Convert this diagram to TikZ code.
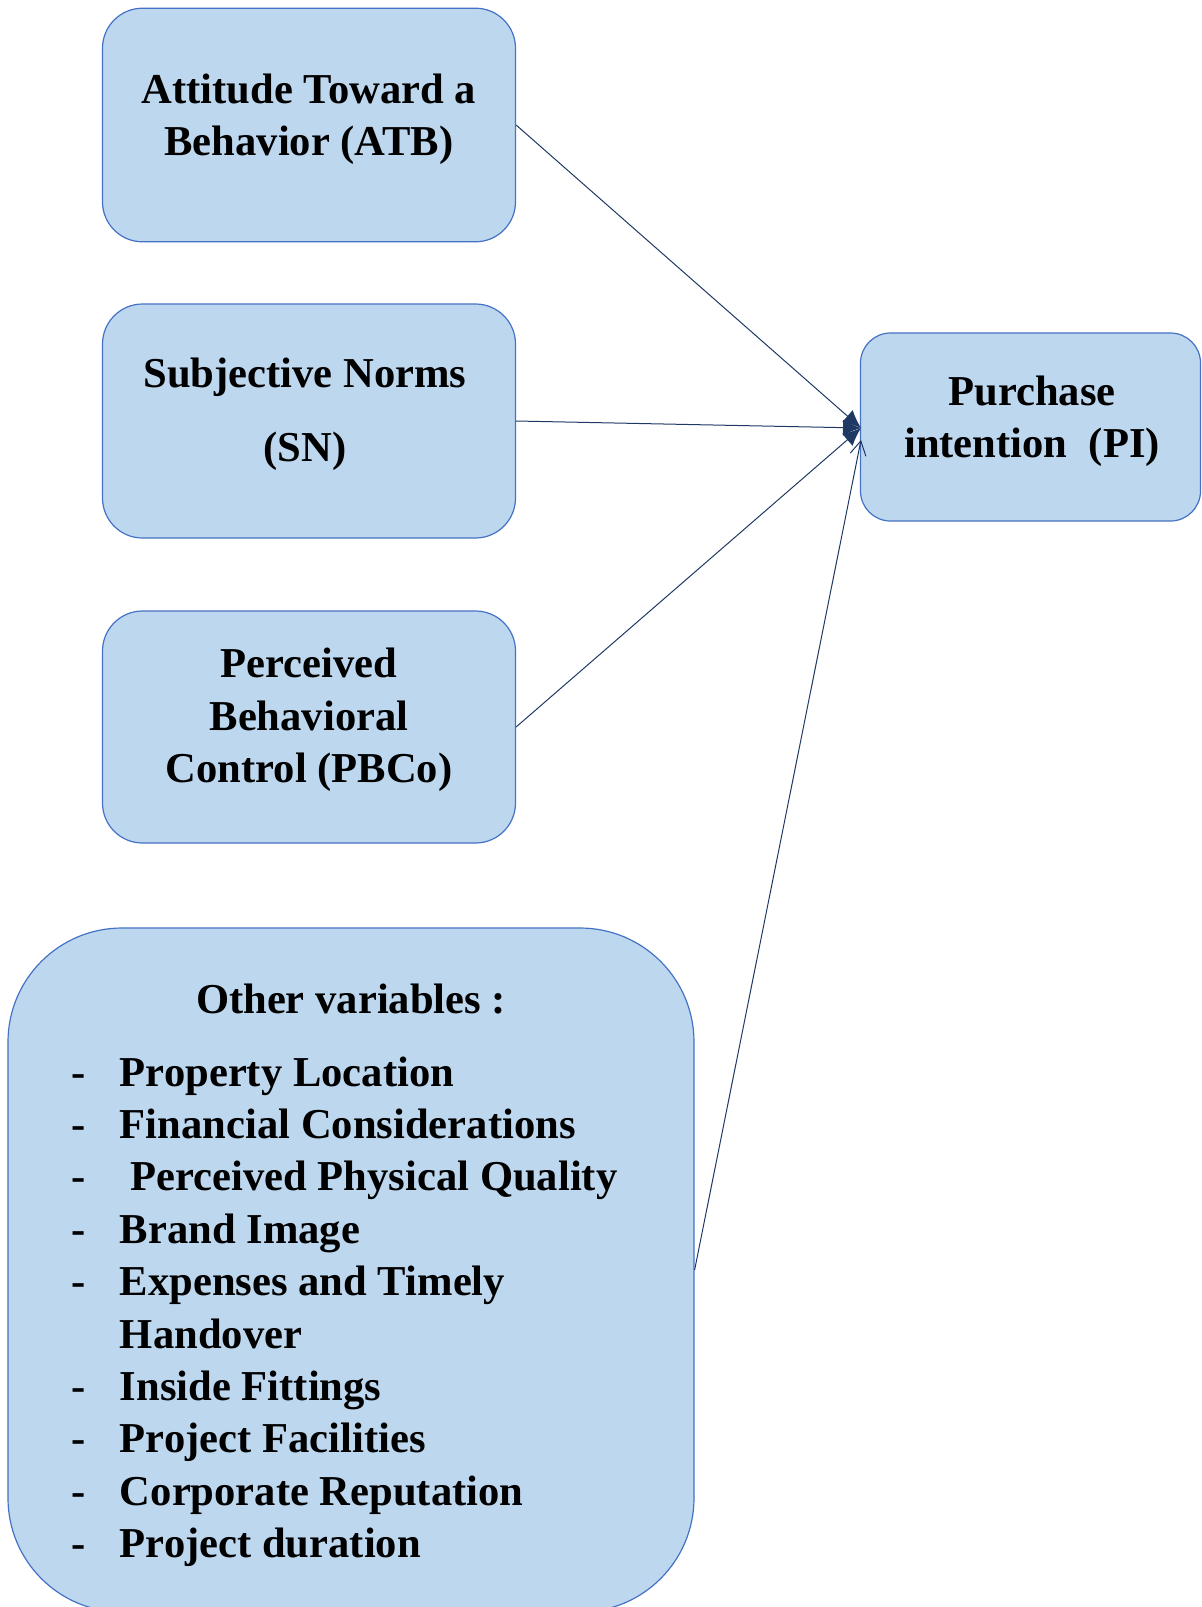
\documentclass[tikz,border=0pt]{standalone}
\usepackage{fontspec}
\setmainfont{Liberation Serif}
\usetikzlibrary{arrows.meta}
\definecolor{boxfill}{HTML}{BDD7EE}
\definecolor{boxline}{HTML}{4472C4}
\definecolor{linkcol}{HTML}{203864}
\tikzset{
  varbox/.style={draw=boxline, fill=boxfill, line width=0.6pt, inner sep=0pt},
  vartext/.style={font=\bfseries\fontsize{21.3}{26.2}\selectfont, align=center, inner sep=0pt},
  link/.style={draw=linkcol, line width=0.5pt},
}

\begin{document}
\begin{tikzpicture}[x=0.5pt,y=-0.5pt]
        \useasboundingbox (0,0) rectangle (1202,1607);
        \node[varbox, rounded corners=20pt, minimum width=206.5pt, minimum height=116.8pt] (atb) at (309,125){};
        \node[varbox, rounded corners=20pt, minimum width=206.5pt, minimum height=117pt] (sn) at (309,421){};
        \node[varbox, rounded corners=20pt, minimum width=206.5pt, minimum height=116pt] (pbc) at (309,727){};
        \node[varbox, rounded corners=15pt, minimum width=170pt, minimum height=94pt] (pi) at (1030.5,427){};
        \node[varbox, rounded corners=57pt, minimum width=343pt, minimum height=342pt] (oth) at (351,1270){};
        \node[vartext] (atbtext) at (309,119){Attitude Toward a\\Behavior (ATB)};
        \node[vartext] (sntext) at (305,414){Subjective Norms\\[11pt](SN)};
        \node[vartext] (pbctext) at (309,720){Perceived\\Behavioral\\Control (PBCo)};
        \node[vartext] (pitext) at (1032,421){Purchase\\intention~~(PI)};
        \node[vartext] (othtext) at (351,999){Other variables :};
        \node[vartext, anchor=base west] (othlist) at (71,1086){%
          \begin{tabular}[t]{@{}l@{\hspace{17.2pt}}l@{}}
          - & Property Location\\
          - & Financial Considerations\\
          - & \ Perceived Physical Quality\\
          - & Brand Image\\
          - & Expenses and Timely\\
            & Handover\\
          - & Inside Fittings\\
          - & Project Facilities\\
          - & Corporate Reputation\\
          - & Project duration
          \end{tabular}};
        \coordinate (tip) at (861,428);
        \coordinate (tipb) at (861,440);
        \draw[link, -{Latex[length=9pt,width=8pt]}] (atb.east)--(tip);
        \draw[link, -{Latex[length=9pt,width=8pt]}] (sn.east)--(tip);
        \draw[link, -{Latex[length=9pt,width=8pt]}] (pbc.east)--(tip);
        \draw[link, -{Straight Barb[length=7pt,width=8pt]}] (oth.east)--(tipb);
    \end{tikzpicture}
\end{document}
